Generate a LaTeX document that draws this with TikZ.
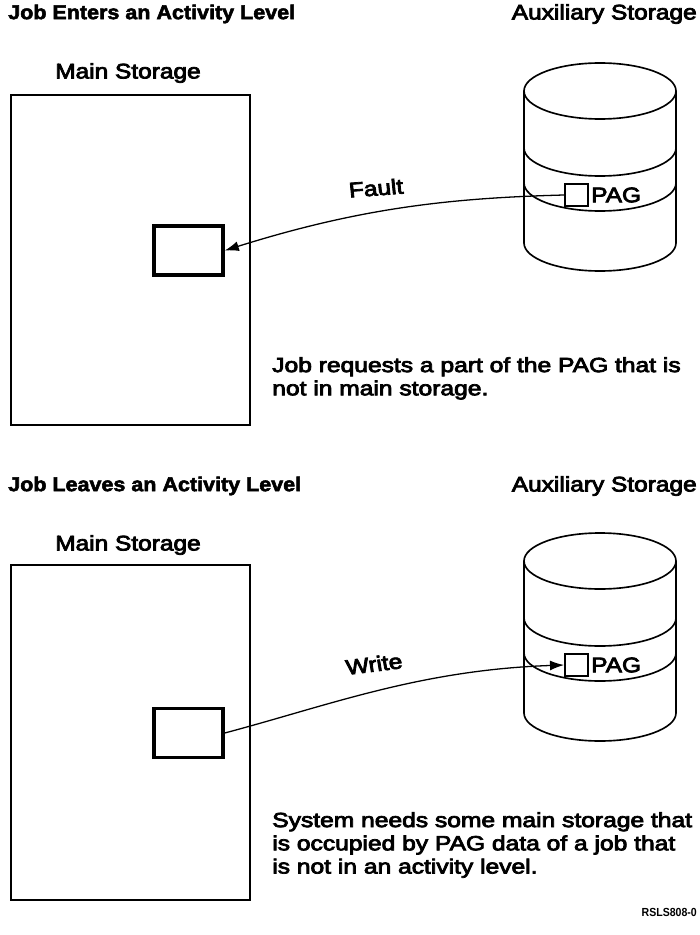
\documentclass[tikz,border=0pt]{standalone}
\usepackage{fontspec}
\setmainfont{Liberation Sans}
\newfontfamily\medfont[FakeBold=3.5]{Liberation Sans}
\newfontfamily\heavyfont[UprightFont={* Bold}, FakeBold=2.5]{Liberation Sans}
\usetikzlibrary{arrows.meta}

\tikzset{
  heading/.style={font=\heavyfont\fontsize{17}{20}\selectfont, inner sep=0pt, xscale=1.08},
  caption/.style={font=\medfont\fontsize{18}{21}\selectfont, inner sep=0pt, xscale=1.16},
  note/.style={font=\medfont\fontsize{17.5}{19.8}\selectfont, align=left, anchor=north west, inner sep=0pt, xscale=1.2},
  mainstore/.style={draw, line width=1pt},
  jobbox/.style={draw, line width=3pt, minimum width=20.7mm, minimum height=14.7mm, inner sep=0pt},
  pagbox/.style={draw, fill=white, line width=1.6pt, minimum width=6.9mm, minimum height=6.6mm, inner sep=0pt},
  disk/.style={line width=1.4pt},
  flow/.style={line width=1.1pt, -{Latex[length=12pt,width=8.5pt]}},
}

\begin{document}
\begin{tikzpicture}[x=0.3mm, y=0.3mm]
  \useasboundingbox (0,0) rectangle (699,-935);

  % --- Top: job enters ---
  \node[heading, anchor=west] (title1) at (8,-14) {Job Enters an Activity Level};
  \node[caption, anchor=east] (aux1) at (697,-14) {Auxiliary Storage};
  \node[caption] (main1) at (128,-73) {Main Storage};
  \draw[mainstore] (11,-95) rectangle (250,-425);
  \node[jobbox] (job1) at (188.5,-250.5) {};

  % disk
  \draw[disk] (524,-91) -- (524,-243) arc[start angle=180, end angle=360, x radius=76, y radius=28] -- (676,-91);
  \draw[disk] (600,-91) ellipse[x radius=76, y radius=28];
  \draw[disk] (524,-148) arc[start angle=180, end angle=360, x radius=76, y radius=28];
  \draw[disk] (524,-183) arc[start angle=180, end angle=360, x radius=76, y radius=28];
  \node[pagbox] (pag1) at (576.5,-195) {};
  \node[caption, anchor=west] (pagtxt1) at ([xshift=0.6mm]pag1.east) {PAG};

  % fault
  \draw[flow] (pag1.west) .. controls (450,-198) and (360,-208) .. (job1.east);
  \node[caption, rotate=5] (fault) at (376,-188) {Fault};

  \node[note] (note1) at (272,-357) {Job requests a part of the PAG that is\\not in main storage.};

  % --- Bottom: job leaves ---
  \node[heading, anchor=west] (title2) at (8,-486) {Job Leaves an Activity Level};
  \node[caption, anchor=east] (aux2) at (697,-486) {Auxiliary Storage};
  \node[caption] (main2) at (128,-545) {Main Storage};
  \draw[mainstore] (11,-565) rectangle (250,-900);
  \node[jobbox] (job2) at (188.5,-733) {};

  % disk
  \draw[disk] (524,-561) -- (524,-713) arc[start angle=180, end angle=360, x radius=76, y radius=28] -- (676,-561);
  \draw[disk] (600,-561) ellipse[x radius=76, y radius=28];
  \draw[disk] (524,-618) arc[start angle=180, end angle=360, x radius=76, y radius=28];
  \draw[disk] (524,-653) arc[start angle=180, end angle=360, x radius=76, y radius=28];
  \node[pagbox] (pag2) at (576.5,-665) {};
  \node[caption, anchor=west] (pagtxt2) at ([xshift=0.6mm]pag2.east) {PAG};

  % write
  \draw[flow] (job2.east) .. controls (330,-705) and (420,-670) .. (pag2.west);
  \node[caption, rotate=8] (write) at (374,-664) {Write};

  \node[note] (note2) at (272,-812) {System needs some main storage that\\is occupied by PAG data of a job that\\is not in an activity level.};

  \node[font=\fontsize{10}{11}\selectfont\bfseries, inner sep=0pt, anchor=east, xscale=0.9] (tag) at (697,-912) {RSLS808-0};
\end{tikzpicture}
\end{document}
